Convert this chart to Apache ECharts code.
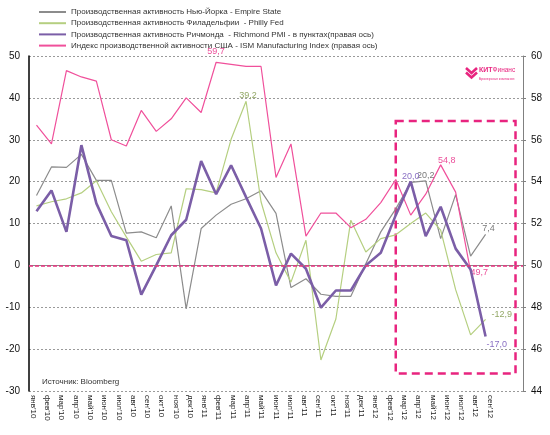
<!DOCTYPE html>
<html><head><meta charset="utf-8">
<script src="https://cdn.jsdelivr.net/npm/echarts@6/dist/echarts.min.js"></script>
<style>html,body{margin:0;padding:0;background:#fff}#c{width:550px;height:435px}</style>
</head><body><div id="c"></div>
<script>
const categories = ["янв'10","фев'10","мар'10","апр'10","май'10","июн'10","июл'10","авг'10","сен'10","окт'10","ноя'10","дек'10",
  "янв'11","фев'11","мар'11","апр'11","май'11","июн'11","июл'11","авг'11","сен'11","окт'11","ноя'11","дек'11",
  "янв'12","фев'12","мар'12","апр'12","май'12","июн'12","июл'12","авг'12","сен'12"];
const empireState = [16.7,23.5,23.4,26.5,20.3,20.3,7.7,8.0,6.6,14.2,-10.4,8.8,12.0,14.6,15.9,17.8,12.4,-5.3,-3.2,-6.9,-7.4,-7.4,0.4,8.0,13.5,19.8,20.2,6.4,16.9,2.2,7.4];
const phillyFed = [14.2,15.2,15.9,17.3,20.2,12.8,6.8,1.0,2.6,3.0,18.3,18.1,17.3,30.1,39.2,15.2,3.0,-4.0,6.0,-22.6,-12.8,10.8,3.2,6.4,7.3,10.0,12.5,8.4,-5.8,-16.6,-12.9];
const richmondPmi = [12.9,17.9,8.0,28.7,14.8,7.0,6.0,-7.0,0.0,7.2,10.9,24.9,17.0,23.9,16.3,8.8,-4.8,2.8,-0.8,-10.1,-6.0,-6.0,0.0,3.0,12.0,20.0,7.0,14.0,4.0,-1.0,-17.0];
const ismIndex = [56.7,55.8,59.3,59.0,58.8,56.0,55.7,57.4,56.4,57.0,58.0,57.3,59.7,59.6,59.5,59.5,54.2,55.8,51.4,52.5,52.5,51.8,52.2,53.0,54.1,52.4,53.4,54.8,53.5,49.7];
const seriesNames = [
  "Производственная активность Нью-Йорка - Empire State",
  "Производственная активность Филадельфии  - Philly Fed",
  "Производственная активность Ричмонда  - Richmond PMI - в пунктах(правая ось)",
  "Индекс производственной активности США - ISM Manufacturing Index (правая ось)"
];
const sourceText = "Источник: Bloomberg";

const fmt = v => v.toFixed(1).replace('.', ',');
const F = '"Liberation Sans", Arial, sans-serif';

function withLabels(values, specs, color) {
  return values.map((v, i) => {
    const s = specs[i];
    if (!s) return v;
    return { value: v, label: Object.assign({ show: true, color: color, fontSize: 9, fontFamily: F, formatter: p => fmt(p.value) }, s) };
  });
}

const cEmpire = '#8c8c8c', cPhilly = '#b5cf80', cRich = '#7b5ea7', cIsm = '#f0509b';
const lineBase = { type: 'line', xAxisIndex: 0, symbol: 'circle', symbolSize: 0.01, showSymbol: true, z: 3 };

const chart = echarts.init(document.getElementById('c'), null, { renderer: 'canvas' });
chart.setOption({
  animation: false,
  backgroundColor: '#fff',
  textStyle: { fontFamily: F },
  legend: {
    orient: 'vertical', left: 39, top: 7, padding: 0, itemWidth: 27, itemHeight: 2, itemGap: 1.2,
    icon: 'rect', selectedMode: false,
    textStyle: { fontSize: 8, color: '#333', lineHeight: 10, fontFamily: F },
    data: seriesNames
  },
  grid: [
    { left: 29, right: 27, top: 56, bottom: 44 },
    { left: 26, width: 471, top: 56, bottom: 44 }
  ],
  xAxis: [
    { type: 'category', gridIndex: 0, data: categories, boundaryGap: true,
      axisLine: { show: false }, axisTick: { show: false }, axisLabel: { show: false }, splitLine: { show: false } },
    { type: 'category', gridIndex: 1, data: categories, boundaryGap: true,
      axisLine: { show: false }, axisTick: { show: false }, splitLine: { show: false },
      axisLabel: { rotate: -90, fontSize: 8, color: '#222', margin: 4, interval: 0, fontFamily: F } }
  ],
  yAxis: [
    { type: 'value', gridIndex: 0, min: -30, max: 50, interval: 10, position: 'left',
      axisLine: { show: true, lineStyle: { color: '#000', width: 1.5 } }, axisTick: { show: false },
      axisLabel: { fontSize: 10, color: '#111', margin: 9, fontFamily: F },
      splitLine: { show: true, lineStyle: { color: '#9a9a9a', type: [2, 2], width: 1 } } },
    { type: 'value', gridIndex: 0, min: 44, max: 60, interval: 2, position: 'right',
      axisLine: { show: true, lineStyle: { color: '#808080', width: 1 } },
      axisTick: { show: true, length: 3, lineStyle: { color: '#808080' } },
      axisLabel: { fontSize: 10, color: '#111', margin: 8, fontFamily: F },
      splitLine: { show: false } },
    { type: 'value', gridIndex: 1, show: false, min: -30, max: 50 }
  ],
  series: [
    Object.assign({}, lineBase, { name: seriesNames[0], yAxisIndex: 0,
      lineStyle: { color: cEmpire, width: 1.2 }, itemStyle: { color: cEmpire },
      data: withLabels(empireState, {
        26: { position: 'top', distance: 1 },
        30: { position: 'top', distance: 1, offset: [3, 0] }
      }, '#7a7a7a'),
      markLine: { silent: true, symbol: 'none', label: { show: false },
        lineStyle: { color: '#8a8a8a', width: 1, type: 'solid' }, data: [{ yAxis: 0 }] } }),
    Object.assign({}, lineBase, { name: seriesNames[1], yAxisIndex: 0,
      lineStyle: { color: cPhilly, width: 1.2 }, itemStyle: { color: cPhilly },
      data: withLabels(phillyFed, {
        14: { position: 'top', distance: 1, offset: [2, 0] },
        30: { position: 'right', distance: 6, offset: [0, -5] }
      }, '#93a866') }),
    Object.assign({}, lineBase, { name: seriesNames[2], yAxisIndex: 0, z: 4,
      lineStyle: { color: cRich, width: 2.6 }, itemStyle: { color: cRich },
      data: withLabels(richmondPmi, {
        25: { position: 'top', distance: 1 },
        30: { position: 'right', distance: 1, offset: [0, 8] }
      }, '#8a70c4'),
      markArea: { silent: true,
        itemStyle: { color: 'rgba(0,0,0,0)', borderColor: '#e8247f', borderWidth: 2.5, borderType: [8, 5] },
        data: [[{ xAxis: "янв'12", yAxis: 34.5 }, { xAxis: "сен'12", yAxis: -25.8 }]] } }),
    Object.assign({}, lineBase, { name: seriesNames[3], yAxisIndex: 1,
      lineStyle: { color: cIsm, width: 1.2 }, itemStyle: { color: cIsm },
      data: withLabels(ismIndex, {
        12: { position: 'top', distance: 6 },
        27: { position: 'top', distance: 0, offset: [6, 0] },
        29: { position: 'right', distance: 0, offset: [0, 1] }
      }, '#ec4f9a'),
      markLine: { silent: true, symbol: 'none', label: { show: false },
        lineStyle: { color: '#e8327f', width: 1.6, type: [4, 2] }, data: [{ yAxis: 50 }] } })
  ],
  graphic: [
    { type: 'text', left: 42, top: 378, style: { text: sourceText, fontSize: 8, fill: '#333', fontFamily: F } },
    { type: 'polyline', shape: { points: [[466, 68], [471.5, 73], [477, 68]] }, style: { stroke: '#e8247f', lineWidth: 2.6, fill: null } },
    { type: 'polyline', shape: { points: [[466, 72.5], [471.5, 77.5], [477, 72.5]] }, style: { stroke: '#e8247f', lineWidth: 2.6, fill: null } },
    { type: 'text', left: 479, top: 67, style: { text: '{b|КИТ}{n|Финанс}', rich: {
      b: { fontSize: 7, fontWeight: 'bold', fill: '#e8247f', fontFamily: F },
      n: { fontSize: 6.5, fill: '#e8247f', fontFamily: F } } } },
    { type: 'text', left: 479, top: 77.5, style: { text: 'Брокерская компания', fontSize: 3.5, fill: '#e8247f', fontFamily: F } }
  ]
});
</script>
</body></html>
